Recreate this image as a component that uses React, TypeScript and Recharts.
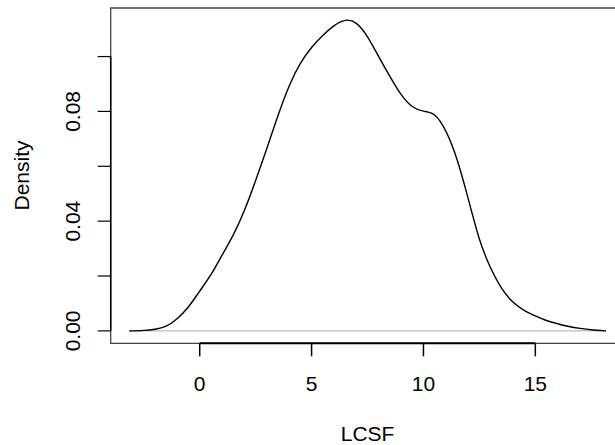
import React from 'react';
import { LineChart, Line, XAxis, YAxis, ReferenceLine, ReferenceArea } from 'recharts';

const lcsf = [-3.15, -2.5, -2.0, -1.5, -1.0, -0.5, 0.0, 0.5, 1.0, 1.5, 2.0, 2.5, 3.0, 3.5, 4.0, 4.5, 5.0, 5.5, 6.0, 6.5, 7.0, 7.5, 8.0, 8.5, 9.0, 9.5, 10.0, 10.5, 11.0, 11.5, 12.0, 12.5, 13.0, 13.5, 14.0, 14.5, 15.0, 15.5, 16.0, 16.5, 17.0, 17.5, 18.16];
const density = [0, 0.0002, 0.0006, 0.0017, 0.0045, 0.0088, 0.0145, 0.0205, 0.0276, 0.035, 0.044, 0.0548, 0.0665, 0.0785, 0.0893, 0.0975, 0.1033, 0.1077, 0.1112, 0.1132, 0.1121, 0.1072, 0.1, 0.0928, 0.0862, 0.0818, 0.0801, 0.0787, 0.0728, 0.0625, 0.0482, 0.0335, 0.023, 0.0155, 0.0105, 0.0075, 0.0055, 0.0038, 0.0026, 0.0016, 0.0009, 0.0004, 0];

const xTicks = [0, 5, 10, 15];
const yTicks = [0, 0.02, 0.04, 0.06, 0.08, 0.1];
const yLabels = ['0.00', '', '0.04', '', '0.08', ''];

const data = lcsf.map((x, i) => ({ x, y: density[i] }));

const X_MIN = -3.978;
const X_MAX = 18.99;
const Y_MIN = -0.00452;
const Y_MAX = 0.1177;
const FONT = '"Liberation Sans", Arial, Helvetica, sans-serif';
const FS = 21;

const XTick = (props: any) => {
  const { x, y, payload } = props;
  const xx = Number(x);
  const yy = Number(y);
  return (
    <g>
      <rect x={xx - 0.75} y={yy - 13} width={1.5} height={13} fill="#000" stroke="none" />
      <text x={xx} y={yy + 35} textAnchor="middle" fontFamily={FONT} fontSize={FS} fill="#000">
        {String(payload.value)}
      </text>
    </g>
  );
};

const YTick = (props: any) => {
  const { y, payload } = props;
  const idx = yTicks.indexOf(payload.value);
  const label = idx >= 0 ? yLabels[idx] : '';
  if (!label) return <g />;
  return (
    <text
      x={80}
      y={y}
      transform={`rotate(-90, 80, ${y})`}
      textAnchor="middle"
      fontFamily={FONT}
      fontSize={FS}
      fill="#000"
    >
      {label}
    </text>
  );
};

export default function App() {
  return (
    <div style={{ position: 'absolute', left: 0, top: 0, width: 615, height: 445, overflow: 'hidden', background: '#fff' }}>
      <LineChart
        width={700}
        height={445}
        data={data}
        margin={{ top: 8, right: 75.4, bottom: 1.7, left: 0 }}
      >
        <XAxis
          dataKey="x"
          type="number"
          domain={[X_MIN, X_MAX]}
          allowDataOverflow
          ticks={xTicks}
          tickSize={13}
          tickMargin={0}
          axisLine={false}
          tickLine={false}
          tick={<XTick />}
          height={100}
          interval={0}
        />
        <YAxis
          type="number"
          domain={[Y_MIN, Y_MAX]}
          allowDataOverflow
          ticks={yTicks}
          tickSize={13}
          axisLine={false}
          tickLine={{ stroke: '#000', strokeWidth: 1.2 }}
          tick={<YTick />}
          width={110.7}
          interval={0}
        />
        <ReferenceArea
          x1={X_MIN}
          x2={X_MAX}
          y1={Y_MIN}
          y2={Y_MAX}
          fill="none"
          stroke="#444"
          strokeWidth={1.3}
          ifOverflow="visible"
        />
        <ReferenceLine
          segment={[{ x: 0, y: Y_MIN }, { x: 15, y: Y_MIN }]}
          stroke="#000"
          strokeWidth={2}
          ifOverflow="visible"
        />
        <ReferenceLine
          segment={[{ x: X_MIN, y: 0 }, { x: X_MIN, y: 0.1 }]}
          stroke="#000"
          strokeWidth={1.5}
          ifOverflow="visible"
        />
        <ReferenceLine
          segment={[{ x: lcsf[0], y: 0 }, { x: lcsf[lcsf.length - 1], y: 0 }]}
          stroke="#BEBEBE"
          strokeWidth={1.2}
        />
        <Line
          type="natural"
          dataKey="y"
          stroke="#000"
          strokeWidth={1.4}
          dot={false}
          isAnimationActive={false}
        />
      </LineChart>
      <svg width={615} height={445} style={{ position: 'absolute', left: 0, top: 0, pointerEvents: 'none' }}>
        <text x={367.6} y={441} textAnchor="middle" fontFamily={FONT} fontSize={FS} fill="#000">LCSF</text>
        <text
          x={28.5}
          y={175.5}
          transform="rotate(-90, 28.5, 175.5)"
          textAnchor="middle"
          fontFamily={FONT}
          fontSize={FS}
          fill="#000"
        >
          Density
        </text>
      </svg>
    </div>
  );
}
